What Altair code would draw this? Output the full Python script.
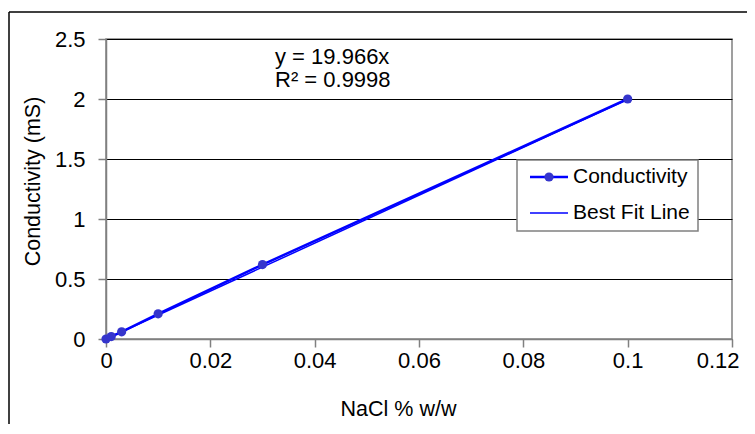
import altair as alt
import pandas as pd

# ---- data ----
nacl = [0, 0.001, 0.003, 0.01, 0.03, 0.1]
conductivity = [0, 0.02, 0.06, 0.21, 0.62, 2.0]
fit_x = [0, 0.1]
fit_y = [0, 1.9966]
x_ticks = [0, 0.02, 0.04, 0.06, 0.08, 0.1, 0.12]
y_ticks = [0, 0.5, 1, 1.5, 2, 2.5]
equation = ["y = 19.966x", "R² = 0.9998"]
legend_labels = ["Conductivity", "Best Fit Line"]

FONT = "Liberation Sans"
W, H = 626, 300
GRAY = "#808080"
LINE_BLUE = "#0000ff"
MARK_BLUE = "#3535cc"

df = pd.DataFrame({"x": nacl, "y": conductivity})
fit = pd.DataFrame({"x": fit_x, "y": fit_y})
one = pd.DataFrame({"k": [0]})

xs = alt.Scale(domain=[0, 0.12], nice=False, zero=False)
ys = alt.Scale(domain=[0, 2.5], nice=False)

x_axis = alt.Axis(values=x_ticks, format="~g", title="NaCl % w/w", grid=False,
                  labelFlush=False, labelOverlap=False, labelPadding=3,
                  labelAlign=alt.expr("datum.value >= 0.119 ? 'right' : 'center'"),
                  labelOffset=alt.expr("datum.value >= 0.119 ? 7 : 0"),
                  titleX=292, titleY=70, titleBaseline="middle")
y_axis = alt.Axis(values=y_ticks, format="~g", title="Conductivity (mS)", grid=True,
                  gridColor="#000000", gridWidth=1, labelPadding=13,
                  labelFlush=False, labelOverlap=False,
                  titleX=-73, titleY=142, titleBaseline="middle", titleAngle=-90)

base_x = alt.X("x:Q", scale=xs, axis=x_axis)
base_y = alt.Y("y:Q", scale=ys, axis=y_axis)

cond_line = alt.Chart(df).mark_line(color=LINE_BLUE, strokeWidth=2.5).encode(x=base_x, y=base_y)
cond_pts = alt.Chart(df).mark_point(filled=True, color=MARK_BLUE, size=85, opacity=1).encode(
    x=alt.X("x:Q", scale=xs), y=alt.Y("y:Q", scale=ys))
fit_line = alt.Chart(fit).mark_line(color=LINE_BLUE, strokeWidth=1.5).encode(
    x=alt.X("x:Q", scale=xs), y=alt.Y("y:Q", scale=ys))

eq1 = alt.Chart(one).mark_text(align="left", baseline="middle", font=FONT, fontSize=22, color="black").encode(
    x=alt.value(169), y=alt.value(18), text=alt.value(equation[0]))
eq2 = alt.Chart(one).mark_text(align="left", baseline="middle", font=FONT, fontSize=22, color="black").encode(
    x=alt.value(169), y=alt.value(41), text=alt.value(equation[1]))

# legend box
leg_box = alt.Chart(one).mark_rect(fill="white", stroke=GRAY, strokeWidth=1.5).encode(
    x=alt.value(411), x2=alt.value(592), y=alt.value(121), y2=alt.value(192))
leg_l1 = alt.Chart(one).mark_rule(color=LINE_BLUE, strokeWidth=2.5).encode(
    x=alt.value(424), x2=alt.value(462), y=alt.value(138))
leg_p1 = alt.Chart(one).mark_point(filled=True, color=MARK_BLUE, size=85, opacity=1).encode(
    x=alt.value(443), y=alt.value(138))
leg_l2 = alt.Chart(one).mark_rule(color=LINE_BLUE, strokeWidth=1.5).encode(
    x=alt.value(424), x2=alt.value(462), y=alt.value(174))
leg_t1 = alt.Chart(one).mark_text(align="left", baseline="middle", font=FONT, fontSize=21, color="black").encode(
    x=alt.value(467), y=alt.value(138), text=alt.value(legend_labels[0]))
leg_t2 = alt.Chart(one).mark_text(align="left", baseline="middle", font=FONT, fontSize=21, color="black").encode(
    x=alt.value(467), y=alt.value(174), text=alt.value(legend_labels[1]))

# outer frame (left and top edges)
frame_left = alt.Chart(one).mark_rule(color="black", strokeWidth=1.5).encode(
    x=alt.value(-97), y=alt.value(-27), y2=alt.value(H + 100))
frame_top = alt.Chart(one).mark_rule(color="black", strokeWidth=1.5).encode(
    x=alt.value(-97), x2=alt.value(W + 30), y=alt.value(-27))

chart = alt.layer(
    frame_left, frame_top,
    cond_line, fit_line, cond_pts, eq1, eq2,
    leg_box, leg_l1, leg_p1, leg_l2, leg_t1, leg_t2,
).properties(
    width=W, height=H,
    autosize=alt.AutoSizeParams(type="none"),
    padding={"left": 98, "top": 31, "right": 15, "bottom": 85},
).configure_view(
    stroke=GRAY, strokeWidth=1.5,
).configure_axis(
    domainColor=GRAY, domainWidth=1.5, tickColor=GRAY, tickWidth=1.5, tickSize=8,
    labelFont=FONT, labelFontSize=22, labelColor="black",
    titleFont=FONT, titleFontSize=21.5, titleFontWeight="normal", titleColor="black",
)

chart.save("out.html", embed_options={"renderer": "svg", "actions": False})
